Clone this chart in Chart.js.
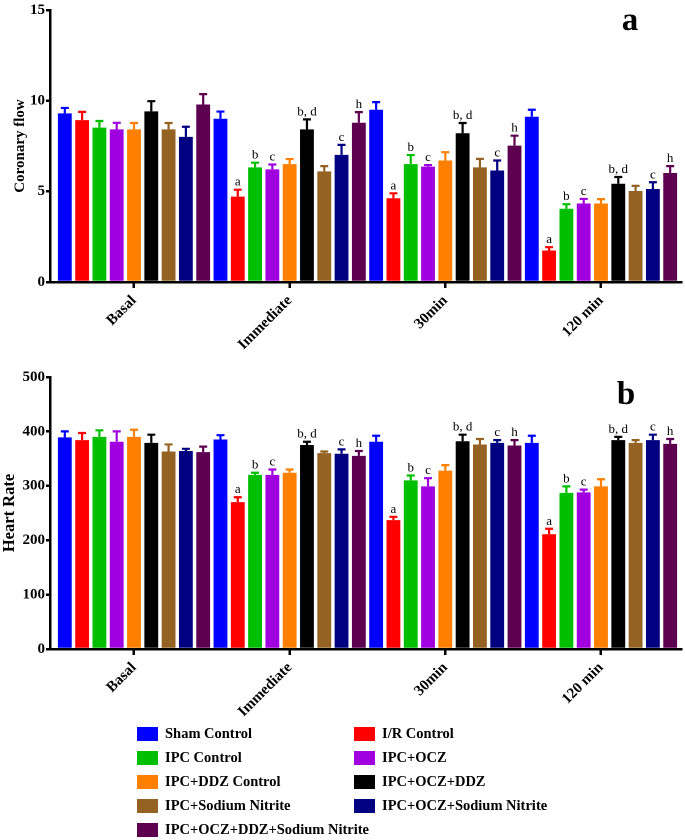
<!DOCTYPE html>
<html>
<head>
<meta charset="utf-8">
<script src="https://cdn.jsdelivr.net/npm/chart.js@4.4.1/dist/chart.umd.min.js"></script>
<style>
  html, body { margin: 0; padding: 0; background: #fff; }
  #page { position: relative; width: 685px; height: 840px; overflow: hidden; background: #fff; }
  .wrap { position: absolute; left: 0; width: 685px; }
  #wrapA { top: 0; height: 360px; }
  #wrapB { top: 360px; height: 360px; }
  #legend { position: absolute; left: 0; top: 0; width: 685px; height: 840px; pointer-events: none; }
  .li { position: absolute; font-family: "Liberation Serif", "Times New Roman", serif; font-weight: bold; font-size: 14.5px; color: #000; white-space: nowrap; }
  .sw { position: absolute; width: 21px; height: 14px; }
</style>
</head>
<body>
<div id="page">
  <div class="wrap" id="wrapA"><canvas id="chartA"></canvas></div>
  <div class="wrap" id="wrapB"><canvas id="chartB"></canvas></div>
  <div id="legend"></div>
</div>
<script>
// ---------- DATA ----------
const categories = ["Basal", "Immediate", "30min", "120 min"];
const seriesNames = ["Sham Control", "I/R Control", "IPC Control", "IPC+OCZ", "IPC+DDZ Control",
  "IPC+OCZ+DDZ", "IPC+Sodium Nitrite", "IPC+OCZ+Sodium Nitrite", "IPC+OCZ+DDZ+Sodium Nitrite"];
const seriesColors = ["#0000FF", "#FF0000", "#00BF00", "#A000E0", "#FF8000",
  "#000000", "#946323", "#000080", "#5E0050"];

// Coronary flow (mean per series, one array per time point)
const cfBasal     = [9.30, 8.93, 8.51, 8.42, 8.42, 9.41, 8.42, 8.00, 9.79];
const cfImmediate = [9.00, 4.71, 6.32, 6.21, 6.50, 8.42, 6.10, 7.01, 8.78];
const cf30min     = [9.50, 4.62, 6.50, 6.36, 6.70, 8.20, 6.32, 6.15, 7.52];
const cf120min    = [9.11, 1.74, 4.04, 4.33, 4.33, 5.42, 5.02, 5.13, 6.01];
// Coronary flow error (upper)
const cfBasalErr     = [0.30, 0.45, 0.37, 0.36, 0.35, 0.56, 0.35, 0.56, 0.57];
const cfImmediateErr = [0.40, 0.38, 0.26, 0.27, 0.28, 0.55, 0.29, 0.55, 0.59];
const cf30minErr     = [0.42, 0.27, 0.50, 0.09, 0.46, 0.57, 0.47, 0.55, 0.55];
const cf120minErr    = [0.39, 0.18, 0.25, 0.25, 0.24, 0.37, 0.28, 0.37, 0.38];

// Heart rate
const hrBasal     = [389, 384, 390, 381, 390, 379, 363, 364, 362];
const hrImmediate = [385, 270, 320, 320, 324, 375, 360, 359, 355];
const hr30min     = [381, 237, 310, 299, 328, 382, 376, 379, 374];
const hr120min    = [379, 211, 287, 288, 299, 384, 379, 384, 377];
const hrBasalErr     = [11, 13, 12, 19, 13, 15, 13, 4, 10];
const hrImmediateErr = [8, 9, 4, 10, 6, 6, 3, 8, 9];
const hr30minErr     = [11, 6, 9, 15, 10, 12, 10, 5, 10];
const hr120minErr    = [13, 10, 12, 5, 13, 6, 5, 10, 9];

// Significance letters per series
const sigBasal = ["", "", "", "", "", "", "", "", ""];
const sigLater = ["", "a", "b", "c", "", "b, d", "", "c", "h"];

const cfTicks = [0, 5, 10, 15];
const hrTicks = [0, 100, 200, 300, 400, 500];

// ---------- helpers ----------
const SERIF = '"Liberation Serif", "Times New Roman", serif';
const groupsCF = [cfBasal, cfImmediate, cf30min, cf120min];
const groupsCFErr = [cfBasalErr, cfImmediateErr, cf30minErr, cf120minErr];
const groupsHR = [hrBasal, hrImmediate, hr30min, hr120min];
const groupsHRErr = [hrBasalErr, hrImmediateErr, hr30minErr, hr120minErr];
const groupsSig = [sigBasal, sigLater, sigLater, sigLater];

function buildDatasets(groups, groupsErr) {
  return seriesNames.map((name, i) => ({
    label: name,
    data: categories.map((c, j) => ({ x: j, y: groups[j][i] })),
    err: categories.map((c, j) => groupsErr[j][i]),
    sig: categories.map((c, j) => groupsSig[j][i]),
    backgroundColor: seriesColors[i],
    borderWidth: 0,
    categoryPercentage: 1.0,
    barPercentage: 0.8
  }));
}

const errorBarPlugin = {
  id: 'errorBars',
  afterDatasetsDraw(chart) {
    const ctx = chart.ctx;
    const ys = chart.scales.y;
    chart.data.datasets.forEach((ds, di) => {
      const meta = chart.getDatasetMeta(di);
      meta.data.forEach((bar, j) => {
        const v = ds.data[j].y;
        const top = ys.getPixelForValue(v + ds.err[j]);
        ctx.save();
        ctx.strokeStyle = ds.backgroundColor;
        ctx.lineWidth = 2.2;
        ctx.beginPath();
        ctx.moveTo(bar.x, bar.y);
        ctx.lineTo(bar.x, top);
        ctx.moveTo(bar.x - 4, top);
        ctx.lineTo(bar.x + 4, top);
        ctx.stroke();
        const s = ds.sig[j];
        if (s) {
          ctx.fillStyle = '#000';
          ctx.font = '13px ' + SERIF;
          ctx.textAlign = 'center';
          ctx.textBaseline = 'alphabetic';
          ctx.fillText(s, bar.x, top - 4);
        }
        ctx.restore();
      });
    });
  }
};

const panelLabelPlugin = {
  id: 'panelLabel',
  afterDraw(chart, args, opts) {
    const ctx = chart.ctx;
    ctx.save();
    ctx.fillStyle = '#000';
    ctx.font = 'bold 33px ' + SERIF;
    ctx.textAlign = 'center';
    ctx.textBaseline = 'alphabetic';
    ctx.fillText(opts.text, opts.x, opts.y);
    ctx.restore();
  }
};

function makeChart(id, groups, groupsErr, yMax, yTicks, yTitle, titleSize, titlePad, padTop, xHeight, label, labelX, labelY) {
  const tickFont = { family: SERIF, size: 15, weight: 'bold' };
  return new Chart(document.getElementById(id), {
    type: 'bar',
    data: { datasets: buildDatasets(groups, groupsErr) },
    options: {
      responsive: true,
      maintainAspectRatio: false,
      animation: false,
      devicePixelRatio: 2,
      layout: { padding: { top: padTop, right: 4, left: 0, bottom: 0 } },
      plugins: {
        legend: { display: false },
        tooltip: { enabled: false },
        panelLabel: { text: label, x: labelX, y: labelY }
      },
      scales: {
        x: {
          type: 'linear',
          min: -0.5396,
          max: 3.514,
          offset: false,
          afterBuildTicks: s => { s.ticks = categories.map((c, i) => ({ value: i })); },
          afterFit: s => { s.height = xHeight; },
          ticks: {
            callback: v => categories[v],
            autoSkip: false,
            minRotation: 45,
            maxRotation: 45,
            color: '#000',
            font: tickFont,
            padding: 4
          },
          grid: { display: true, offset: false, drawOnChartArea: false, drawTicks: true, tickLength: 6, color: '#000', lineWidth: 2.5 },
          border: { display: true, color: '#000', width: 2.5 }
        },
        y: {
          min: 0,
          max: yMax,
          afterBuildTicks: s => { s.ticks = yTicks.map(v => ({ value: v })); },
          afterFit: s => { s.width = 50; },
          ticks: { color: '#000', font: tickFont, padding: 1 },
          grid: { display: true, offset: false, drawOnChartArea: false, drawTicks: true, tickLength: 4, color: '#000', lineWidth: 2.5 },
          border: { display: true, color: '#000', width: 2.5 },
          title: { display: true, text: yTitle, color: '#000', font: { family: SERIF, size: titleSize, weight: 'bold' }, padding: { top: titlePad, bottom: 0 } }
        }
      }
    },
    plugins: [errorBarPlugin, panelLabelPlugin]
  });
}

makeChart('chartA', groupsCF, groupsCFErr, 15, cfTicks, 'Coronary flow', 15, 11, 8, 78, 'a', 630, 30);
makeChart('chartB', groupsHR, groupsHRErr, 500, hrTicks, 'Heart Rate', 16.5, 0, 17, 71, 'b', 626, 44);

// ---------- legend ----------
const legend = document.getElementById('legend');
const colSwatchX = [137, 354];
const colTextX = [165, 382];
seriesNames.forEach((name, i) => {
  const row = Math.floor(i / 2), col = i % 2;
  const cy = 733.5 + row * 24.1;
  const sw = document.createElement('div');
  sw.className = 'sw';
  sw.style.left = colSwatchX[col] + 'px';
  sw.style.top = (cy - 7) + 'px';
  sw.style.background = seriesColors[i];
  legend.appendChild(sw);
  const t = document.createElement('div');
  t.className = 'li';
  t.textContent = name;
  t.style.left = colTextX[col] + 'px';
  t.style.top = (cy - 9.5) + 'px';
  t.style.lineHeight = '18px';
  legend.appendChild(t);
});
</script>
</body>
</html>
